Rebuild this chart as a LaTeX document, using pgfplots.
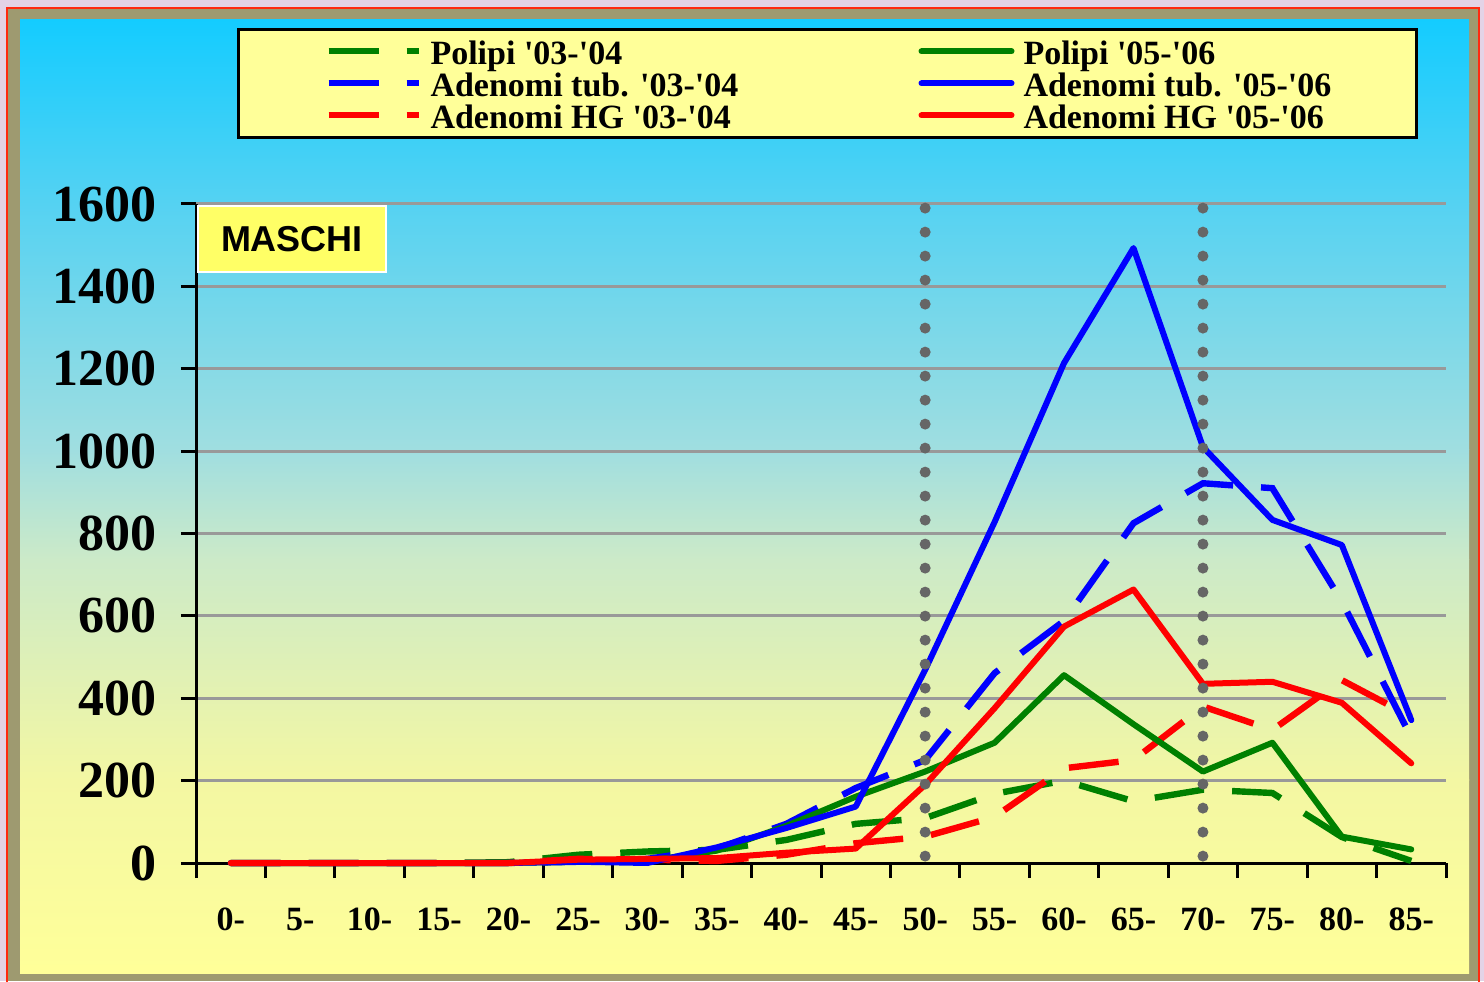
\documentclass[border=0pt]{standalone}
\usepackage{fontspec}
\setmainfont{Liberation Serif}[Ligatures=TeXOff]
\newfontfamily\arialfont{Liberation Sans}
\usepackage{pgfplots}
\pgfplotsset{compat=1.18}
\definecolor{pinkbg}{HTML}{E3D3E6}
\definecolor{khaki}{HTML}{9E9A70}
\definecolor{framered}{HTML}{FF2A10}
\definecolor{cA}{HTML}{14CCFF}
\definecolor{cB}{HTML}{55D2F2}
\definecolor{cC}{HTML}{A0DEE0}
\definecolor{cD}{HTML}{CCEAC8}
\definecolor{cE}{HTML}{F3F7A3}
\definecolor{cF}{HTML}{FFFF99}
\definecolor{legyellow}{HTML}{FFFF99}
\definecolor{maschiyellow}{HTML}{FFFF66}
\definecolor{gridgray}{HTML}{999999}
\definecolor{dotgray}{HTML}{666666}
\definecolor{pgreen}{HTML}{008000}
\definecolor{pblue}{HTML}{0000FF}
\definecolor{pred}{HTML}{FF0000}
\begin{document}
\begin{tikzpicture}[x=1pt,y=1pt]
\useasboundingbox (0,0) rectangle (742,490.5);
\fill[pinkbg] (0,0) rectangle (742,490.5);
\fill[khaki] (4,0) rectangle (739,486.5);
\draw[framered, line width=1.2pt] (3.6,-2) -- (3.6,486.6) -- (739.4,486.6) -- (739.4,-2);
\shade[top color=cA, bottom color=cB] (10,388.5) rectangle (734.5,480.5);
\shade[top color=cB, bottom color=cC] (10,265.5) rectangle (734.5,388.6);
\shade[top color=cC, bottom color=cD] (10,210.5) rectangle (734.5,265.6);
\shade[top color=cD, bottom color=cE] (10,100.5) rectangle (734.5,210.6);
\shade[top color=cE, bottom color=cF] (10,4) rectangle (734.5,100.6);
\begin{axis}[
  at={(98pt,59pt)}, anchor=south west,
  scale only axis, width=625pt, height=329.5pt,
  xmin=-0.5, xmax=17.5, ymin=0, ymax=1600,
  clip=false,
  axis x line*=bottom, axis y line*=left,
  axis line style={line width=1.5pt, black},
  tick align=outside,
  major tick length=7.5pt,
  tick style={line width=1.5pt, black},
  xtick={-0.5,0.5,...,17.5},
  xticklabel style={opacity=0, text opacity=0},
  extra x ticks={0,1,...,17},
  extra x tick labels={0-,5-,10-,15-,20-,25-,30-,35-,40-,45-,50-,55-,60-,65-,70-,75-,80-,85-},
  extra x tick style={major tick length=0pt, xticklabel style={opacity=1, text opacity=1, font=\bfseries\fontsize{17}{17}\selectfont, anchor=base, inner sep=0pt, yshift=-33.5pt}},
  ytick={0,200,...,1600},
  yticklabel style={font=\bfseries\fontsize{26}{26}\selectfont, anchor=east, inner sep=0pt, xshift=-12pt},
  /pgf/number format/assume math mode=true,
  /pgf/number format/1000 sep={},
  ymajorgrids,
  grid style={line width=1.5pt, gridgray},
  legend columns=2,
  legend cell align=left,
  legend image code/.code={\draw[#1] (0pt,0pt) -- (45pt,0pt);},
  legend style={at={(0.0328,1.2671)}, anchor=north west, fill=legyellow, draw=black, line width=1.5pt,
    inner xsep=43.5pt, inner ysep=3pt,
    font=\bfseries\fontsize{17}{17}\selectfont,
    nodes={inner sep=0pt, text height=14.5pt, text depth=1.5pt},
    /tikz/every odd column/.style={column sep=4.5pt},
    /tikz/every even column/.style={column sep=0pt}},
]
% data: 0- ... 85-
\addplot[pgreen, line width=3.2pt, dash pattern=on 25pt off 14pt, forget plot] coordinates {
(0,0) (1,0) (2,0) (3,0) (4,2) (5,20) (6,28) (7,32) (8,56) (9,95) (10,109) (11,168) (12,200) (13,150) (14,178) (15,170) (16,63) (17,5)};
\addplot[pblue, line width=3.2pt, dash pattern=on 25pt off 14pt, forget plot] coordinates {
(0,0) (1,0) (2,0) (3,0) (4,0) (5,3) (6,10) (7,35) (8,95) (9,182) (10,250) (11,461) (12,588) (13,825) (14,922) (15,910) (16,635) (17,305)};
\addplot[pred, line width=3.2pt, dash pattern=on 25pt off 14pt, forget plot] coordinates {
(0,0) (1,0) (2,0) (3,0) (4,0) (5,10) (6,8) (7,5) (8,20) (9,48) (10,64) (11,112) (12,230) (13,250) (14,380) (15,323) (16,444) (17,355)};
\addplot[pgreen, line width=3pt, line join=round, line cap=round, forget plot] coordinates {
(0,0) (1,0) (2,0) (3,0) (4,0) (5,3) (6,5) (7,30) (8,90) (9,161) (10,222) (11,292) (12,456) (13,337) (14,222) (15,292) (16,64) (17,33)};
\addplot[pblue, line width=3pt, line join=round, line cap=round, forget plot] coordinates {
(0,0) (1,0) (2,0) (3,0) (4,0) (5,3) (6,0) (7,38) (8,85) (9,137) (10,469) (11,828) (12,1214) (13,1493) (14,1010) (15,833) (16,772) (17,347)};
\addplot[pred, line width=3pt, line join=round, line cap=round, forget plot] coordinates {
(0,0) (1,0) (2,0) (3,0) (4,0) (5,8) (6,10) (7,12) (8,25) (9,35) (10,190) (11,376) (12,574) (13,664) (14,435) (15,440) (16,389) (17,242)};
% dotted verticals
\addplot[dotgray, line width=5.5pt, line cap=round, dash pattern=on 0pt off 12pt, forget plot] coordinates {(10,1590) (10,15)};
\addplot[dotgray, line width=5.5pt, line cap=round, dash pattern=on 0pt off 12pt, forget plot] coordinates {(14,1590) (14,15)};
% legend
\addlegendimage{pgreen, line width=3pt, dash pattern=on 25pt off 14pt}
\addlegendentry{\makebox[244pt][l]{Polipi '03-'04}}
\addlegendimage{pgreen, line width=3pt, line cap=round}
\addlegendentry{\makebox[153pt][l]{Polipi '05-'06}}
\addlegendimage{pblue, line width=3pt, dash pattern=on 25pt off 14pt}
\addlegendentry{\makebox[244pt][l]{Adenomi tub. '03-'04}}
\addlegendimage{pblue, line width=3pt, line cap=round}
\addlegendentry{\makebox[153pt][l]{Adenomi tub. '05-'06}}
\addlegendimage{pred, line width=3pt, dash pattern=on 25pt off 14pt}
\addlegendentry{\makebox[244pt][l]{Adenomi HG '03-'04}}
\addlegendimage{pred, line width=3pt, line cap=round}
\addlegendentry{\makebox[153pt][l]{Adenomi HG '05-'06}}
\end{axis}
\node[fill=maschiyellow, draw=white, line width=1pt, minimum width=94pt, minimum height=33pt, inner sep=0pt, font=\arialfont\bfseries\fontsize{18}{18}\selectfont] at (146,371) {MASCHI};
\end{tikzpicture}
\end{document}
